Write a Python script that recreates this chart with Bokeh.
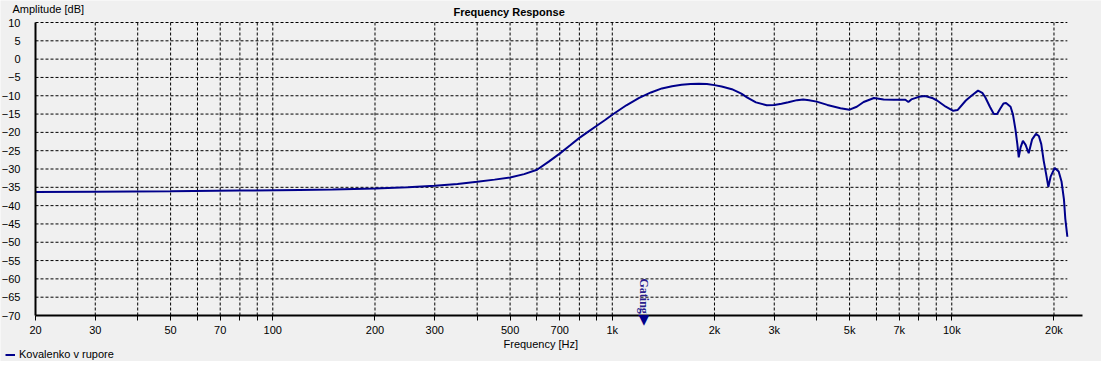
import math
from bokeh.plotting import figure
from bokeh.models import FixedTicker, Label, Legend, LegendItem, Range1d
from bokeh.embed import file_html
from bokeh.resources import INLINE

# ---- data ----
freq_hz = [20, 30, 50, 80, 120, 150, 200, 250, 300, 350, 400, 450, 500, 550, 600, 650,
           700, 750, 800, 850, 900, 950, 1000, 1100, 1200, 1300, 1400, 1500, 1600, 1700,
           1800, 1900, 2000, 2100, 2250, 2400, 2500, 2650, 2850, 3000, 3150, 3300, 3500,
           3650, 3800, 4000, 4300, 4700, 5000, 5250, 5500, 5900, 6300, 6750, 7300, 7450,
           7600, 8000, 8350, 8750, 9050, 9600, 10100, 10400, 11000, 11500, 11950, 12300,
           12550, 12950, 13300, 13600, 13900, 14200, 14450, 14900, 15150, 15400, 15600,
           15750, 15950, 16200, 16500, 16850, 17250, 17700, 18050, 18350, 18650, 18950,
           19250, 19550, 20100, 20650, 21050, 21400, 21600, 21900]
level_db = [-36.3, -36.2, -36.1, -35.9, -35.7, -35.6, -35.3, -35.0, -34.6, -34.1, -33.5,
            -32.9, -32.3, -31.4, -30.2, -28.0, -25.8, -23.6, -21.5, -19.8, -18.2, -16.7,
            -15.2, -12.6, -10.6, -9.1, -8.0, -7.4, -7.0, -6.8, -6.7, -6.8, -7.1, -7.5,
            -8.2, -9.4, -10.5, -11.8, -12.6, -12.5, -12.2, -11.8, -11.2, -11.0, -11.2,
            -11.6, -12.5, -13.4, -13.8, -13.0, -11.7, -10.6, -11.0, -11.1, -11.1, -11.7,
            -11.0, -10.3, -10.1, -10.6, -11.3, -13.0, -14.1, -13.9, -11.3, -9.8, -8.6,
            -9.2, -10.4, -13.0, -15.0, -15.0, -13.5, -12.1, -12.0, -13.0, -15.2, -19.2,
            -23.2, -26.8, -24.1, -22.3, -23.4, -25.7, -21.9, -20.4, -21.0, -23.2, -27.7,
            -31.2, -34.9, -32.1, -29.7, -30.7, -33.4, -38.3, -43.6, -48.5]
series_name = "Kovalenko v rupore"

x_ticks = [20, 30, 40, 50, 60, 70, 80, 90, 100, 200, 300, 400, 500, 600, 700, 800, 900,
           1000, 2000, 3000, 4000, 5000, 6000, 7000, 8000, 9000, 10000, 20000]
x_tick_labels = {20: "20", 30: "30", 50: "50", 70: "70", 100: "100", 200: "200",
                 300: "300", 500: "500", 700: "700", 1000: "1k", 2000: "2k", 3000: "3k",
                 5000: "5k", 7000: "7k", 10000: "10k", 20000: "20k"}
y_ticks = [-70, -65, -60, -55, -50, -45, -40, -35, -30, -25, -20, -15, -10, -5, 0, 5, 10]
gating_hz = 1240

title_text = "Frequency Response"
x_title = "Frequency [Hz]"
y_title = "Amplitude [dB]"

# ---- layout / styling ----
BG = "#F0F0F0"
LINE = "#00008B"
FONT = "Liberation Sans"
W, H = 1101, 361
X0, X1 = 20, 24270          # axis extent (Hz)
Y0, Y1 = -70, 10            # axis extent (dB)
PX_L, PX_R = 35, 1082       # pixel columns of X0, X1
PY_T, PY_B = 22, 315        # pixel rows of Y1, Y0

dec_px = math.log10(X1 / X0) / (PX_R - PX_L)
db_px = (Y1 - Y0) / (PY_B - PY_T)
x_range = Range1d(X0 * 10 ** (-PX_L * dec_px), X0 * 10 ** ((W - PX_L) * dec_px))
y_range = Range1d(Y0 - (H - PY_B) * db_px, Y1 + PY_T * db_px)

p = figure(width=W, height=H, x_axis_type="log", x_range=x_range, y_range=y_range,
           output_backend="svg", toolbar_location=None, min_border=0,
           min_border_left=0, min_border_right=0, min_border_top=0,
           min_border_bottom=0)
p.title.text = ""
p.title.visible = False
p.background_fill_color = BG
p.border_fill_color = BG
p.outline_line_color = None
p.xgrid.visible = False
p.ygrid.visible = False

# axes drawn at fixed data locations inside the frame
ax = p.xaxis[0]
ax.fixed_location = Y0
ax.bounds = (X0, X1)
ax.ticker = FixedTicker(ticks=x_ticks)
ax.major_label_overrides = {t: x_tick_labels.get(t, "") for t in x_ticks}
ax.axis_line_width = 2
ax.axis_line_color = "black"
ax.major_tick_out = 5
ax.major_tick_in = 0
ax.major_tick_line_color = "black"
ax.minor_tick_line_color = None
ax.major_label_standoff = 3
ax.major_label_text_font = FONT
ax.major_label_text_font_size = "11px"
ax.major_label_text_color = "black"

ay = p.yaxis[0]
ay.fixed_location = X0
ay.bounds = (Y0, Y1)
ay.ticker = FixedTicker(ticks=y_ticks)
ay.axis_line_width = 2
ay.axis_line_color = "black"
ay.major_tick_out = 0
ay.major_tick_in = 0
ay.minor_tick_line_color = None
ay.major_label_standoff = 15
ay.major_label_text_font = FONT
ay.major_label_text_font_size = "11px"
ay.major_label_text_color = "black"

# dashed grid, limited to the data box
p.multi_line(xs=[[freq_hz[0], freq_hz[-1]] for v in y_ticks[1:]],
             ys=[[v, v] for v in y_ticks[1:]],
             line_color="black", line_dash="3 2", line_width=1)
p.multi_line(xs=[[t, t] for t in x_ticks[1:]],
             ys=[[Y0, Y1] for t in x_ticks[1:]],
             line_color="black", line_dash="3 2", line_width=1)

# curve
r = p.line(freq_hz, level_db, line_color=LINE, line_width=2)

# texts
p.add_layout(Label(x=X0, y=Y1, x_offset=418, y_offset=17, text=title_text,
                   text_font=FONT, text_font_size="11px", text_font_style="bold",
                   text_baseline="top", text_color="black"))
p.add_layout(Label(x=X0, y=Y1, x_offset=-23, y_offset=20, text=y_title,
                   text_font=FONT, text_font_size="11px", text_baseline="top",
                   text_color="black"))
p.add_layout(Label(x=X0, y=Y0, x_offset=468, y_offset=-22, text=x_title,
                   text_font=FONT, text_font_size="11px", text_baseline="top",
                   text_color="black"))

legend = Legend(items=[LegendItem(label=series_name, renderers=[r])],
                location=(5, 1), border_line_color=None,
                background_fill_alpha=0, padding=0, margin=0, spacing=0,
                glyph_width=10, glyph_height=11, label_height=11,
                label_standoff=4, label_text_font=FONT,
                label_text_font_size="11px", label_text_color="black")
p.add_layout(legend)

# gating marker
p.add_layout(Label(x=gating_hz, y=Y0, y_offset=-3, text="\u25BC", text_font="DejaVu Sans",
                   text_font_size="14px", text_align="center", text_baseline="middle",
                   text_color="#00008B"))
p.add_layout(Label(x=gating_hz, y=Y0, y_offset=37, text="Gating", angle=-math.pi / 2,
                   text_font="Liberation Serif", text_font_size="12px",
                   text_font_style="bold", text_align="left", text_baseline="middle",
                   text_color="#2A1E8C"))

open("out.html", "w").write(file_html(p, INLINE))
